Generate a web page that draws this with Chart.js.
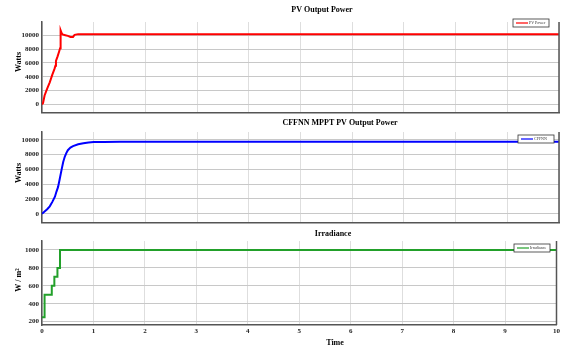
<!DOCTYPE html>
<html>
<head>
<meta charset="utf-8">
<script src="https://cdn.jsdelivr.net/npm/chart.js@4"></script>
<style>
  html, body { margin: 0; padding: 0; background: #fff; }
  #wrap { position: relative; width: 562px; height: 349px; overflow: hidden; }
  canvas { position: absolute; left: 0; }
</style>
</head>
<body>
<div id="wrap">
  <canvas id="c1" style="top:0px"></canvas>
  <canvas id="c2" style="top:118px"></canvas>
  <canvas id="c3" style="top:230px"></canvas>
</div>
<script>
// time ticks (s)
const timeTicks = [0, 1, 2, 3, 4, 5, 6, 7, 8, 9, 10];
const wattTicks = [0, 2000, 4000, 6000, 8000, 10000];
const irrTicks = [200, 400, 600, 800, 1000];

// PV output power (W)
const pvTime  = [0, 0.02, 0.05, 0.1, 0.15, 0.2, 0.24, 0.26, 0.27, 0.3, 0.33, 0.35, 0.36, 0.38, 0.4, 0.45, 0.5, 0.55, 0.6, 0.63, 0.7, 0.8, 1.0, 1.5, 2, 2.5, 3, 3.5, 4, 5, 6, 7, 8, 9, 10];
const pvPower = [0, 200, 1300, 2300, 3200, 4300, 5100, 5600, 6300, 6900, 7600, 8100, 10700, 10300, 10100, 10000, 9900, 9750, 9750, 10050, 10150, 10150, 10150, 10150, 10150, 10150, 10150, 10150, 10150, 10150, 10150, 10150, 10150, 10150, 10150];

// CFFNN MPPT PV output power (W)
const nnTime  = [0, 0.05, 0.1, 0.15, 0.2, 0.25, 0.28, 0.31, 0.34, 0.38, 0.41, 0.44, 0.47, 0.5, 0.55, 0.6, 0.7, 0.8, 0.9, 1.0, 1.2, 1.5, 2, 3, 4, 5, 6, 7, 8, 9, 10];
const nnPower = [0, 300, 600, 1000, 1600, 2300, 3000, 3600, 4600, 6000, 7000, 7700, 8200, 8600, 8950, 9150, 9400, 9550, 9650, 9700, 9720, 9730, 9730, 9730, 9730, 9730, 9730, 9730, 9730, 9730, 9730];

// Irradiance (W/m^2)
const irrTime  = [0, 0.05, 0.19, 0.24, 0.3, 0.35, 10];
const irrValue = [250, 500, 600, 700, 800, 1000, 1000];

const serif = "'Liberation Serif', 'Times New Roman', serif";

function toXY(xs, ys) { return xs.map((x, i) => ({ x: x, y: ys[i] })); }

function panelPlugin(opts) {
  return {
    id: 'panel',
    afterDraw(chart) {
      const ctx = chart.ctx, a = chart.chartArea;
      ctx.save();
      // right frame line
      ctx.strokeStyle = '#555';
      ctx.lineWidth = 1.5;
      ctx.beginPath();
      ctx.moveTo(a.right, a.top);
      ctx.lineTo(a.right, a.bottom);
      ctx.stroke();
      // title
      ctx.fillStyle = '#000';
      ctx.font = 'bold 8px ' + serif;
      ctx.textAlign = 'center';
      ctx.textBaseline = 'middle';
      ctx.fillText(opts.title, opts.titleX, opts.titleY);
      // y label
      ctx.save();
      ctx.translate(19, opts.ylabY);
      ctx.rotate(-Math.PI / 2);
      ctx.fillText(opts.ylab, 0, 0);
      ctx.restore();
      if (opts.xlab) ctx.fillText(opts.xlab, opts.xlabX, opts.xlabY);
      // legend box
      const lx = opts.legX, ly = opts.legY, lw = 36, lh = 8;
      ctx.fillStyle = '#fff';
      ctx.fillRect(lx, ly, lw, lh);
      ctx.strokeStyle = '#333';
      ctx.lineWidth = 0.8;
      ctx.strokeRect(lx, ly, lw, lh);
      ctx.strokeStyle = opts.color;
      ctx.lineWidth = 1.2;
      ctx.beginPath();
      ctx.moveTo(lx + 3, ly + lh / 2);
      ctx.lineTo(lx + 15, ly + lh / 2);
      ctx.stroke();
      ctx.fillStyle = '#333';
      ctx.font = '4px ' + serif;
      ctx.textAlign = 'left';
      ctx.fillText(opts.legend, lx + 16, ly + lh / 2);
      ctx.restore();
    }
  };
}

function makePanel(id, w, h, cfg) {
  const el = document.getElementById(id);
  el.style.width = w + 'px';
  el.style.height = h + 'px';
  el.width = w; el.height = h;
  return new Chart(el, {
    type: 'line',
    data: {
      datasets: [{
        label: cfg.legend,
        data: toXY(cfg.xs, cfg.ys),
        borderColor: cfg.color,
        borderWidth: 2,
        pointRadius: 0,
        tension: 0,
        stepped: cfg.stepped || false
      }]
    },
    options: {
      responsive: false,
      animation: false,
      layout: { padding: { top: cfg.padTop, bottom: cfg.padBottom, left: 0, right: 3 } },
      plugins: { legend: { display: false }, tooltip: { enabled: false }, title: { display: false } },
      scales: {
        x: {
          type: 'linear',
          min: 0, max: 10,
          afterBuildTicks: s => { s.ticks = timeTicks.map(v => ({ value: v })); },
          afterFit: s => { s.height = cfg.xHeight; },
          grid: { color: '#dedede', drawTicks: false },
          border: { color: '#555', width: 1.5 },
          ticks: { display: cfg.showX, padding: 2, color: '#222', font: { family: serif, size: 7, weight: 'bold' },
                   callback: v => String(v) }
        },
        y: {
          min: cfg.ymin, max: cfg.ymax,
          afterBuildTicks: s => { s.ticks = cfg.yticks.map(v => ({ value: v })); },
          afterFit: s => { s.width = 42; },
          grid: { color: '#c8c8c8', drawTicks: false },
          border: { color: '#555', width: 1.5 },
          ticks: { padding: 3, color: '#222', font: { family: serif, size: 7, weight: 'bold' },
                   callback: v => String(v) }
        }
      }
    },
    plugins: [panelPlugin(cfg)]
  });
}

makePanel('c1', 562, 120, {
  xs: pvTime, ys: pvPower, color: '#ff0000', legend: 'PV Power',
  padTop: 22, padBottom: 4, xHeight: 0, showX: false,
  ymin: -1200, ymax: 11900, yticks: wattTicks,
  title: 'PV Output Power', titleX: 322, titleY: 10,
  ylab: 'Watts', ylabY: 62,
  legX: 513, legY: 19
});

makePanel('c2', 562, 112, {
  xs: nnTime, ys: nnPower, color: '#0000ff', legend: 'CFFNN',
  padTop: 14, padBottom: 3, xHeight: 0, showX: false,
  ymin: -1230, ymax: 11060, yticks: wattTicks,
  title: 'CFFNN MPPT PV Output Power', titleX: 340, titleY: 5,
  ylab: 'Watts', ylabY: 55,
  legX: 518, legY: 17
});

makePanel('c3', 562, 119, {
  xs: irrTime, ys: irrValue, color: '#22a02a', legend: 'Irradiance', stepped: true,
  padTop: 11, padBottom: 0, xHeight: 24, showX: true,
  ymin: 163, ymax: 1100, yticks: irrTicks,
  title: 'Irradiance', titleX: 333, titleY: 4,
  ylab: 'W / m\u00B2', ylabY: 50,
  xlab: 'Time', xlabX: 335, xlabY: 113,
  legX: 514, legY: 14
});
</script>
</body>
</html>
